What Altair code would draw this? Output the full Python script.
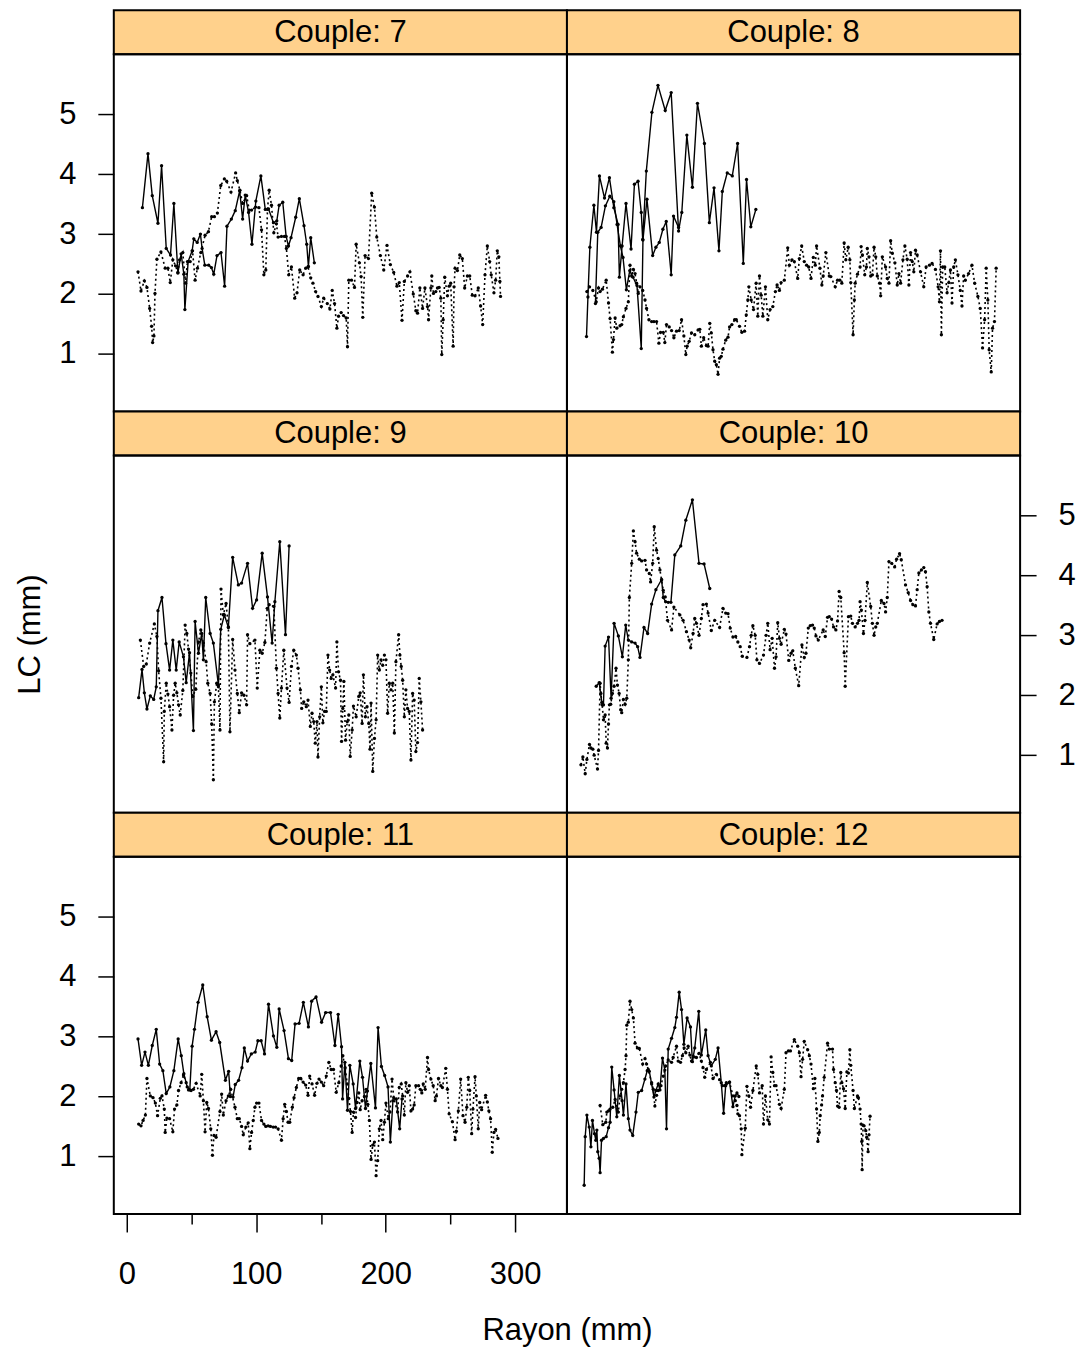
import altair as alt
import pandas as pd

FONT = "Liberation Sans"
STRIP_FILL = "#FFD18C"

y_ticks = [1, 2, 3, 4, 5]
x_ticks = [0, 50, 100, 150, 200, 250, 300]

# ---------------- data (Rayon mm, LC mm) ----------------
c7_solid = [(12.1,3.44),(16.4,4.34),(19.7,3.64),(24.1,3.18),(26.9,4.14),(30.5,2.76),(33.8,2.65),(36.4,3.51),(39.5,2.35),(42.0,2.67),(44.1,2.33),(44.9,1.74),(47.4,2.54),(50.5,2.72),(51.8,2.92),(54.4,2.86),(56.9,3.00),(58.2,2.76),(60.3,2.48),(63.3,2.48),(65.4,2.44),(67.2,2.33),(69.7,2.64),(72.8,2.69),(75.6,2.13),(77.4,3.13),(80.8,3.25),(83.8,3.39),(87.2,3.72),(89.5,3.25),(91.5,3.65),(94.1,3.36),(96.7,2.83),(99.7,3.55),(103.6,3.97),(107.0,3.41),(109.5,3.42),(113.3,3.19),(115.9,3.22),(117.7,3.48),(120.5,3.53),(123.1,2.96),(124.9,2.80),(126.9,2.94),(130.5,3.28),(133.3,3.59),(136.9,3.14),(139.0,2.83),(140.3,2.46),(142.1,2.94),(144.9,2.52)]
c7_dotted = [(8.7,2.37),(11.0,2.05),(13.6,2.22),(15.6,2.11),(17.7,1.76),(19.2,1.46),(20.0,1.19),(21.0,1.30),(21.8,2.01),(23.3,2.58),(26.4,2.70),(29.7,2.43),(31.8,2.43),(33.6,2.19),(35.6,2.57),(37.7,2.47),(39.5,2.36),(40.8,2.57),(43.3,2.69),(45.4,2.18),(46.9,2.54),(49.0,2.54),(50.8,2.72),(52.8,2.23),(54.6,2.43),(57.2,2.69),(60.5,2.98),(63.1,3.04),(65.6,3.29),(67.7,3.29),(70.0,3.35),(72.6,3.81),(75.4,3.92),(77.2,3.88),(80.5,3.70),(84.1,4.02),(85.4,3.89),(87.4,3.73),(89.5,3.51),(92.6,3.64),(94.6,3.40),(96.4,3.40),(99.5,3.45),(102.1,3.44),(104.1,3.07),(105.9,2.32),(107.4,2.40),(108.7,3.41),(110.0,3.73),(111.8,3.48),(113.6,3.02),(115.6,3.17),(116.9,2.95),(119.5,2.96),(121.8,2.96),(123.3,2.76),(125.1,2.32),(127.2,2.45),(129.7,1.93),(131.5,2.02),(133.6,2.40),(136.2,2.32),(138.2,2.43),(140.0,2.45),(142.1,2.27),(143.8,2.18),(145.9,2.04),(147.7,1.96),(150.3,1.79),(152.1,1.93),(154.9,1.84),(156.9,1.75),(158.7,2.06),(160.5,1.84),(162.3,1.43),(163.6,1.63),(165.6,1.69),(167.4,1.64),(169.5,1.60),(170.5,1.12),(171.5,2.23),(173.6,2.23),(175.9,2.11),(177.2,2.83),(179.7,2.52),(181.0,2.29),(182.3,1.61),(184.1,2.64),(186.7,2.59),(189.2,3.68),(191.3,3.45),(193.1,2.95),(195.9,2.64),(198.5,2.40),(201.0,2.81),(203.6,2.49),(206.2,2.36),(208.7,2.13),(210.5,2.19),(212.6,1.56),(214.4,2.21),(216.9,2.30),(218.7,2.37),(221.3,2.00),(223.3,1.72),(224.6,1.68),(226.4,2.10),(228.5,1.76),(230.3,2.10),(232.3,1.79),(233.1,1.57),(234.9,2.10),(235.6,2.30),(236.9,2.01),(238.7,2.04),(240.0,2.10),(241.3,2.11),(242.6,1.93),(243.3,0.99),(244.4,1.57),(245.6,2.28),(247.7,1.97),(249.0,2.13),(250.2,2.18),(252.1,1.13),(252.8,2.12),(253.6,2.43),(255.4,2.39),(257.2,2.65),(259.2,2.59),(261.0,2.10),(263.1,2.30),(264.9,2.30),(266.9,1.98),(269.0,1.97),(271.5,2.10),(273.3,1.80),(274.9,1.49),(276.7,2.32),(278.5,2.80),(280.3,2.54),(281.5,2.32),(283.6,2.02),(284.9,2.23),(286.2,2.72),(287.4,2.62),(288.2,2.21),(288.7,1.96)]

c8_solid_a = [(5.1,1.29),(6.2,1.95),(7.7,2.78),(10.8,3.48),(12.8,3.03),(15.1,3.97),(19.0,3.60),(22.8,3.94),(26.2,3.44),(29.5,3.16),(30.5,2.28),(32.6,2.80),(35.6,3.51),(39.5,2.75),(42.1,3.83),(44.9,3.88),(47.4,3.36),(48.5,2.91),(51.3,4.05),(55.6,5.03),(60.3,5.48),(65.9,5.06),(70.5,5.36),(76.2,3.05),(78.7,3.36),(82.6,4.65),(86.9,3.78),(90.8,5.18),(96.2,4.51),(100.0,3.19),(103.6,3.77),(107.4,2.72),(110.0,3.71),(113.8,4.02),(117.7,3.97),(121.8,4.51),(126.2,2.51),(128.7,3.91),(132.0,3.12),(135.9,3.41)]
c8_solid_b = [(12.0,1.84),(13.8,3.03),(16.4,3.11),(19.7,3.47),(23.1,3.63),(26.2,3.54),(28.7,3.16),(31.3,2.80),(33.3,2.61),(35.9,2.07),(38.5,2.39),(41.0,2.28),(44.1,2.14),(47.4,1.09),(48.7,2.90),(51.8,3.58),(56.2,2.64),(58.7,2.78),(61.3,2.86),(64.1,3.08),(66.7,3.21),(70.5,2.32),(72.3,3.30),(76.2,3.11)]
c8_dotted = [(5.4,2.04),(7.4,2.12),(10.0,2.06),(12.6,1.87),(14.4,2.10),(15.6,2.04),(17.4,2.08),(20.3,2.23),(22.1,1.85),(23.3,1.59),(25.1,1.03),(25.9,1.24),(27.2,1.60),(28.5,1.43),(31.0,1.47),(32.3,1.49),(33.6,1.62),(35.6,1.76),(37.4,1.87),(38.7,2.48),(40.0,2.30),(41.3,2.41),(42.6,2.34),(43.8,2.18),(45.1,2.01),(46.4,2.12),(48.5,2.06),(50.3,1.90),(51.5,1.76),(53.3,1.57),(55.4,1.54),(57.2,1.54),(59.2,1.54),(61.0,1.18),(62.3,1.36),(64.4,1.36),(65.6,1.19),(66.9,1.49),(69.0,1.45),(70.8,1.39),(72.6,1.27),(74.6,1.38),(76.7,1.39),(78.5,1.57),(80.3,1.30),(81.8,0.99),(82.8,1.13),(84.4,1.21),(86.2,1.35),(88.7,1.32),(91.3,1.40),(92.6,1.41),(93.8,1.13),(95.6,1.27),(97.7,1.14),(99.0,1.13),(100.3,1.51),(101.5,1.35),(102.8,1.07),(104.1,0.88),(105.4,0.82),(106.7,0.66),(107.9,0.93),(109.2,0.96),(110.5,1.08),(112.6,1.23),(114.4,1.28),(115.6,1.45),(117.4,1.49),(119.5,1.57),(120.8,1.57),(123.3,1.46),(125.1,1.36),(127.2,1.38),(128.5,1.65),(129.7,1.90),(130.5,2.12),(132.3,1.90),(134.1,1.74),(136.1,2.18),(137.4,1.63),(138.7,2.30),(140.0,1.98),(141.3,1.63),(143.3,2.12),(145.1,1.57),(146.9,1.74),(149.0,1.79),(151.0,2.04),(152.3,2.15),(154.1,2.06),(155.4,2.19),(157.9,2.23),(160.5,2.77),(161.8,2.48),(163.8,2.57),(165.6,2.54),(168.2,2.26),(169.5,2.59),(171.3,2.80),(173.3,2.54),(175.1,2.48),(176.7,2.45),(178.5,2.26),(180.3,2.61),(181.8,2.48),(182.8,2.80),(185.4,2.43),(186.9,2.15),(187.9,2.30),(190.0,2.69),(192.6,2.30),(193.8,2.29),(197.2,2.12),(199.0,2.23),(200.8,2.23),(202.3,2.18),(204.1,2.85),(205.4,2.57),(207.2,2.78),(208.5,2.57),(209.2,2.19),(211.0,1.32),(212.0,1.90),(212.6,2.18),(214.4,2.33),(216.4,2.45),(217.2,2.79),(218.2,2.65),(220.0,2.32),(221.3,2.45),(222.0,2.76),(223.3,2.62),(224.6,2.30),(225.9,2.32),(227.2,2.78),(228.5,2.62),(229.7,2.30),(231.5,2.18),(232.3,1.97),(233.6,2.62),(236.1,2.45),(237.4,2.26),(238.7,2.18),(240.0,2.89),(241.3,2.68),(243.3,2.52),(245.1,2.15),(246.4,2.34),(247.7,2.18),(249.5,2.57),(251.0,2.80),(252.8,2.58),(254.1,2.15),(255.4,2.69),(256.7,2.54),(257.9,2.37),(259.2,2.73),(260.5,2.65),(263.1,2.37),(265.6,2.12),(267.4,2.45),(270.0,2.48),(272.0,2.51),(274.6,2.41),(276.7,2.12),(277.7,1.87),(278.5,2.72),(279.2,1.32),(280.2,2.45),(281.8,2.45),(283.6,2.02),(284.9,2.19),(286.2,2.40),(287.4,1.85),(288.7,2.45),(290.0,2.57),(292.0,2.32),(293.8,2.06),(295.1,1.80),(296.4,2.30),(297.7,2.23),(300.2,2.34),(302.8,2.48),(304.9,2.18),(307.4,1.96),(309.2,1.76),(311.0,1.10),(312.6,1.57),(313.8,2.43),(315.1,1.90),(316.1,1.07),(317.7,0.70),(318.7,1.43),(320.2,1.54),(321.5,2.43)]

c9_solid = [(9.2,1.96),(11.8,2.43),(13.6,2.04),(15.6,1.77),(18.2,1.99),(20.8,1.93),(22.8,2.14),(24.1,3.41),(27.2,3.63),(30.3,2.86),(33.1,2.42),(35.6,2.92),(38.2,2.42),(40.5,2.89),(43.8,2.64),(45.9,2.21),(48.5,2.71),(51.5,1.41),(52.8,3.23),(55.4,2.70),(57.9,3.03),(59.2,2.59),(61.0,3.63),(64.4,3.03),(66.9,2.87),(70.8,2.17),(72.6,3.10),(75.4,3.34),(78.5,3.13),(81.8,4.30),(86.2,3.84),(88.7,3.87),(93.3,4.20),(97.2,3.45),(100.3,3.59),(104.6,4.37),(108.7,3.64),(112.3,2.87),(114.4,3.56),(118.2,4.56),(122.6,3.01),(125.4,4.49)]
c9_dotted = [(10.5,2.92),(13.1,2.48),(15.1,2.52),(17.7,2.87),(21.3,3.19),(23.3,2.98),(24.6,2.41),(26.4,1.95),(28.5,0.89),(29.0,1.73),(30.5,2.20),(31.8,2.02),(33.1,1.81),(34.9,1.42),(36.2,2.00),(37.4,2.20),(38.7,2.04),(40.0,1.84),(41.3,1.67),(43.3,2.08),(45.1,3.17),(46.4,3.03),(47.7,2.77),(49.5,2.37),(51.0,1.98),(53.3,2.10),(55.4,2.89),(57.2,3.09),(59.2,2.87),(61.3,2.56),(62.6,2.20),(64.4,2.03),(65.6,1.52),(66.9,0.59),(67.7,1.89),(69.5,2.20),(70.8,2.14),(72.0,1.42),(72.8,3.77),(74.6,3.34),(76.7,3.53),(78.5,3.14),(79.7,1.39),(81.8,2.93),(83.6,2.42),(85.4,2.03),(86.9,1.71),(88.7,2.04),(90.5,2.00),(92.6,1.84),(93.3,3.01),(95.1,2.86),(99.0,2.92),(100.8,2.12),(102.8,2.75),(104.6,2.70),(106.7,2.88),(108.5,3.45),(110.0,3.51),(113.6,3.48),(115.6,2.45),(116.9,2.03),(118.2,1.62),(119.5,2.12),(121.3,2.75),(123.8,2.12),(125.4,1.88),(127.2,2.48),(129.0,2.75),(131.0,2.67),(132.3,2.45),(134.1,2.09),(135.1,1.78),(136.7,1.89),(138.7,1.81),(140.0,1.92),(141.8,1.48),(143.1,1.70),(144.4,1.56),(145.6,1.20),(146.9,1.56),(147.7,0.97),(149.0,1.64),(150.3,2.14),(151.5,1.54),(152.8,1.73),(154.1,1.73),(155.4,2.67),(156.7,2.42),(157.9,2.28),(159.2,2.34),(161.3,2.12),(162.3,2.89),(163.6,2.39),(165.1,2.25),(165.9,1.23),(166.9,1.78),(167.7,2.23),(169.0,1.25),(170.3,1.56),(171.5,1.67),(172.6,0.98),(174.1,1.42),(175.1,1.82),(177.2,1.64),(179.2,1.98),(180.3,2.04),(181.8,1.53),(182.8,2.34),(184.3,1.64),(185.6,1.81),(186.9,1.53),(187.9,1.10),(188.7,1.87),(190.0,0.73),(191.3,1.28),(192.6,1.59),(193.8,2.67),(195.1,2.42),(196.4,2.59),(197.7,2.50),(199.0,2.67),(200.2,2.59),(201.5,1.70),(202.8,2.20),(204.1,2.09),(205.4,2.20),(206.7,1.37),(207.9,2.56),(210.0,3.01),(211.0,2.67),(212.0,2.48),(213.1,2.25),(214.4,1.64),(215.6,2.09),(216.9,1.78),(218.2,1.73),(219.5,0.92),(220.8,2.03),(222.0,1.92),(223.3,1.06),(224.6,1.21),(225.9,2.28),(227.2,1.89),(228.5,1.42)]

c10_solid = [(12.6,2.15),(14.9,2.21),(16.9,1.88),(18.2,1.84),(19.5,2.82),(22.1,2.97),(24.1,1.95),(26.4,3.20),(29.7,2.99),(32.8,2.64),(35.4,3.17),(37.4,2.92),(40.0,2.89),(42.6,2.87),(44.6,2.81),(46.4,2.63),(49.5,3.13),(52.3,3.03),(55.4,3.52),(58.7,3.76),(63.1,3.93),(64.4,3.63),(66.2,3.56),(68.2,3.55),(70.3,3.55),(73.3,4.34),(77.9,4.49),(81.8,4.92),(86.9,5.26),(92.0,4.20),(95.9,4.19),(100.3,3.78)]
c10_dotted = [(0.8,0.84),(2.3,0.97),(4.1,0.69),(5.4,0.93),(7.4,1.18),(8.5,1.12),(10.0,1.10),(11.0,1.00),(13.6,0.77),(14.4,1.08),(15.6,2.20),(16.2,2.03),(17.2,1.84),(18.2,1.59),(19.5,1.67),(20.3,1.20),(21.3,1.12),(22.1,1.52),(22.8,1.84),(23.8,1.85),(25.1,2.03),(26.4,2.15),(27.9,2.45),(29.0,2.17),(30.3,2.03),(31.5,1.76),(32.3,1.71),(33.6,1.93),(34.9,1.85),(36.2,1.95),(37.4,2.59),(38.2,3.63),(40.0,4.20),(41.3,4.74),(42.6,4.56),(43.8,4.37),(45.9,4.27),(47.7,4.24),(50.3,4.25),(51.5,4.09),(53.6,4.03),(54.6,3.89),(56.2,4.20),(57.4,4.81),(59.2,4.42),(60.5,4.28),(61.8,4.09),(63.1,3.92),(64.4,3.75),(65.9,3.64),(67.7,3.25),(70.8,3.09),(72.6,3.47),(77.2,3.34),(79.7,3.25),(82.3,3.06),(84.4,2.92),(85.6,2.79),(87.4,3.03),(88.7,3.28),(90.0,3.20),(92.0,3.00),(93.8,3.28),(95.1,3.51),(97.7,3.52),(99.0,3.37),(101.5,3.08),(104.1,3.25),(107.9,3.13),(110.5,3.45),(112.6,3.37),(114.4,3.36),(116.1,3.12),(118.2,2.97),(120.3,2.98),(122.0,2.89),(123.8,2.81),(125.4,2.65),(129.0,2.63),(131.0,2.81),(132.3,3.00),(133.6,3.16),(135.4,3.00),(136.7,2.59),(138.7,2.53),(141.8,2.67),(143.8,3.00),(145.1,3.20),(146.9,2.76),(148.5,2.95),(150.3,2.45),(151.5,2.64),(152.8,3.21),(154.1,2.95),(155.4,2.85),(157.9,3.10),(159.2,3.02),(161.3,2.58),(163.1,2.70),(164.4,2.74),(166.4,2.45),(169.0,2.16),(171.5,2.84),(173.3,2.63),(174.6,2.70),(176.4,3.12),(177.9,3.16),(179.7,3.17),(181.0,3.12),(182.3,2.99),(184.1,2.92),(187.9,3.09),(189.5,2.98),(191.3,3.30),(192.6,3.31),(194.4,3.27),(195.9,3.14),(197.7,3.09),(199.0,3.24),(200.2,3.73),(201.5,3.63),(204.1,2.71),(204.9,2.15),(207.4,3.31),(209.2,3.32),(210.5,3.20),(212.6,3.14),(214.4,3.20),(215.6,3.25),(216.4,3.56),(217.4,3.42),(219.0,3.03),(220.2,3.25),(222.0,3.88),(224.6,3.48),(225.9,3.20),(227.2,3.00),(228.5,3.14),(229.7,3.20),(232.8,3.58),(234.9,3.53),(236.1,3.39),(237.4,3.63),(238.7,4.23),(240.8,4.20),(243.1,4.14),(244.6,4.27),(246.9,4.36),(248.2,4.26),(251.5,3.84),(253.6,3.71),(255.4,3.58),(257.2,3.51),(259.2,3.49),(260.5,3.76),(261.8,4.04),(263.8,4.09),(265.6,4.13),(266.9,4.06),(268.2,3.81),(269.5,3.39),(270.8,3.20),(273.3,2.93),(275.9,3.19),(277.7,3.23),(279.7,3.25)]

c11_solid = [(8.7,2.96),(11.5,2.52),(14.1,2.74),(16.7,2.52),(19.7,2.85),(22.8,3.12),(25.4,2.54),(27.9,2.43),(30.5,2.05),(33.3,2.16),(36.4,2.43),(39.7,2.96),(42.1,2.68),(44.1,2.38),(46.7,2.16),(48.7,2.11),(50.5,2.84),(52.3,3.12),(55.1,3.57),(58.7,3.86),(62.1,3.33),(65.4,2.94),(69.0,3.08),(71.8,2.90),(76.2,2.27),(78.7,2.42),(80.0,2.00),(82.1,1.99),(83.8,2.20),(86.4,2.27),(89.0,2.48),(90.8,2.81),(93.3,2.59),(96.2,2.71),(99.2,2.74),(101.3,2.93),(103.8,2.93),(106.4,2.71),(109.5,3.54),(113.3,3.01),(115.9,2.82),(117.7,3.46),(121.5,3.10),(124.9,2.63),(127.4,2.60),(130.0,3.21),(133.1,3.22),(136.4,3.57),(140.3,3.16),(142.8,3.59),(146.2,3.66),(150.5,3.24),(153.6,3.40),(157.4,3.40),(160.8,2.85),(163.3,3.37),(165.9,2.83),(166.7,1.96),(168.5,2.57),(170.5,1.77),(172.3,2.52),(174.9,2.21),(176.7,1.80),(180.0,2.59),(182.1,2.32),(184.4,1.80),(185.9,2.09),(188.5,2.55),(192.1,1.81),(194.1,3.15),(196.7,2.50),(199.2,2.35),(201.8,2.16),(203.6,1.24),(205.6,1.93),(208.2,1.96),(210.8,1.46),(212.6,1.96)]
c11_dotted = [(9.2,1.54),(11.0,1.51),(12.6,1.60),(14.4,1.69),(15.6,2.30),(18.2,2.01),(20.3,1.98),(22.1,1.89),(23.8,1.68),(25.9,1.97),(27.2,2.01),(29.0,1.79),(29.7,1.40),(31.0,1.64),(33.1,1.63),(35.6,1.41),(36.9,1.79),(38.7,1.86),(40.0,2.10),(42.0,2.23),(43.8,2.36),(45.9,2.23),(47.7,2.11),(49.7,2.10),(51.5,2.12),(53.6,2.22),(56.7,2.01),(57.9,2.37),(59.2,1.93),(60.5,1.41),(61.8,1.90),(63.1,1.80),(64.9,1.46),(66.2,1.02),(67.4,1.35),(69.0,1.32),(72.0,1.75),(73.3,2.04),(74.6,1.69),(76.7,1.93),(78.5,2.01),(80.3,2.12),(83.6,1.82),(85.4,1.63),(86.9,1.63),(88.7,1.50),(90.0,1.36),(92.0,1.49),(93.8,1.56),(95.1,1.13),(96.4,1.40),(97.7,1.60),(99.0,1.82),(100.3,1.89),(102.1,1.89),(104.1,1.60),(105.9,1.54),(107.4,1.50),(109.2,1.51),(111.0,1.50),(113.1,1.49),(114.9,1.49),(116.9,1.46),(119.5,1.27),(120.8,1.63),(122.0,1.87),(123.3,1.75),(124.6,1.57),(125.9,1.57),(127.9,1.82),(129.2,1.98),(131.0,2.15),(132.8,2.30),(134.4,2.30),(136.2,2.24),(138.2,2.19),(140.0,2.02),(141.3,2.34),(143.1,2.21),(145.1,2.02),(146.9,2.22),(148.5,2.29),(150.3,2.24),(152.1,2.18),(154.1,2.34),(156.1,2.57),(157.9,2.45),(159.7,2.45),(161.8,2.07),(163.8,2.23),(165.6,2.51),(166.9,2.68),(168.7,2.48),(170.3,2.21),(171.5,1.97),(172.8,1.75),(174.1,1.40),(175.1,1.74),(176.7,1.65),(177.9,1.90),(179.2,2.06),(180.3,1.78),(181.8,1.93),(183.6,2.00),(184.9,2.12),(186.2,1.87),(187.4,1.60),(188.7,0.95),(190.0,1.19),(191.3,1.24),(192.6,0.68),(193.8,0.93),(195.1,1.46),(196.4,1.60),(197.7,1.28),(199.0,1.57),(200.2,1.89),(202.0,1.63),(203.3,1.74),(204.9,2.29),(206.2,1.98),(209.2,1.74),(210.5,2.15),(212.0,2.21),(213.1,2.01),(214.4,1.69),(215.6,2.23),(216.9,2.07),(218.2,2.18),(219.5,1.76),(220.8,1.79),(222.0,1.86),(223.3,2.18),(225.4,2.18),(226.7,2.12),(227.9,2.06),(229.0,2.21),(230.5,2.12),(232.3,2.65),(233.1,2.45),(234.9,2.29),(236.7,2.18),(238.2,1.93),(239.2,2.01),(240.8,2.30),(242.6,2.18),(243.8,2.15),(246.4,2.47),(247.7,2.12),(249.0,1.71),(251.5,1.58),(253.6,1.28),(254.6,1.42),(256.1,1.76),(257.9,2.29),(259.7,1.68),(261.3,1.57),(262.6,1.82),(263.8,2.32),(264.9,2.10),(266.4,1.38),(267.4,1.79),(269.0,2.33),(270.0,2.01),(271.5,1.46),(272.6,1.90),(274.1,1.78),(277.2,2.02),(278.5,1.91),(279.7,1.76),(281.0,1.63),(282.3,1.07),(283.6,1.40),(284.9,1.45),(286.7,1.30)]

c12_solid = [(3.3,0.52),(4.1,1.33),(5.4,1.69),(7.2,1.49),(8.5,1.16),(9.7,1.60),(11.3,1.38),(12.3,1.27),(13.1,1.44),(13.8,1.08),(14.9,0.97),(15.6,0.73),(16.7,1.27),(18.2,1.30),(20.3,1.33),(22.1,1.48),(23.3,1.57),(24.6,2.49),(26.4,2.11),(28.5,1.66),(30.5,2.35),(32.6,1.93),(33.6,1.69),(35.6,2.21),(37.4,1.63),(38.7,1.44),(40.8,1.35),(43.3,1.74),(45.1,2.07),(47.7,2.10),(50.2,2.29),(52.0,2.43),(53.6,2.42),(55.4,2.21),(57.2,1.99),(58.7,2.10),(60.5,2.21),(61.8,2.11),(63.8,2.64),(65.6,2.44),(66.9,1.46),(68.2,2.79),(70.8,2.97),(73.3,3.15),(74.6,3.32),(76.7,3.74),(78.5,3.45),(80.3,2.87),(82.8,3.31),(85.4,3.16),(86.9,2.58),(88.7,2.81),(91.8,3.42),(93.8,2.69),(97.2,3.11),(99.0,2.68),(101.5,2.51),(104.6,2.62),(106.7,2.81),(109.2,2.23),(111.0,1.72),(112.6,2.18),(115.6,2.24),(118.2,1.83),(120.0,2.01),(121.3,2.06),(122.8,2.00)]
c12_dotted = [(15.6,1.85),(17.7,1.53),(20.0,1.57),(20.8,1.74),(22.1,1.76),(23.3,1.79),(25.4,1.82),(27.2,1.95),(29.7,1.74),(31.0,2.01),(32.3,2.12),(33.6,2.23),(34.9,2.45),(35.6,2.68),(36.2,3.19),(37.4,3.24),(38.7,3.59),(40.0,3.45),(41.3,3.31),(42.6,2.89),(44.4,2.81),(45.9,2.80),(48.5,2.54),(50.3,2.63),(51.5,2.54),(52.8,2.45),(55.4,2.23),(56.7,2.12),(57.9,1.84),(59.2,2.02),(60.5,2.10),(62.6,2.18),(64.4,2.34),(66.2,2.51),(68.2,2.61),(70.8,2.57),(72.0,2.65),(74.6,2.84),(75.9,2.59),(77.7,2.57),(79.2,2.68),(80.5,2.81),(81.8,2.73),(83.6,2.84),(84.9,2.69),(86.2,2.59),(88.2,2.66),(90.0,2.65),(92.0,2.72),(93.8,2.59),(95.1,2.48),(96.4,2.32),(97.7,2.45),(100.8,2.57),(102.8,2.30),(105.4,2.37),(107.9,2.28),(110.0,2.18),(111.8,2.18),(113.1,2.23),(115.6,2.24),(118.2,2.01),(120.0,1.93),(121.3,1.85),(122.0,1.71),(123.3,1.68),(124.6,1.46),(125.1,1.03),(127.7,1.47),(129.0,2.17),(130.5,2.01),(131.8,1.82),(133.6,2.10),(136.2,2.51),(137.4,2.37),(138.7,2.06),(140.8,2.18),(141.8,1.54),(143.3,2.01),(145.1,1.61),(146.4,1.54),(147.7,2.66),(149.0,2.40),(150.3,2.18),(151.5,2.18),(154.1,1.87),(155.4,1.80),(157.9,2.12),(159.2,2.73),(161.0,2.76),(162.6,2.76),(165.6,2.95),(168.2,2.84),(169.5,2.73),(170.8,2.33),(172.0,2.62),(173.3,2.92),(175.9,2.78),(177.2,2.68),(178.5,2.54),(180.3,2.13),(181.5,2.30),(182.8,1.79),(183.8,1.25),(184.9,1.40),(185.6,1.68),(186.7,1.86),(187.4,2.01),(188.7,2.32),(191.3,2.89),(192.6,2.79),(195.1,2.79),(195.9,2.45),(197.2,2.23),(198.2,2.10),(199.0,1.84),(200.2,1.82),(201.5,2.40),(202.3,2.23),(203.6,2.13),(204.9,1.80),(206.2,2.41),(207.4,2.39),(208.5,2.78),(209.2,2.52),(211.0,2.10),(212.0,1.80),(214.4,2.01),(215.1,1.98),(216.4,1.79),(217.2,1.54),(217.7,1.25),(218.0,0.78),(218.7,1.52),(219.5,1.51),(220.8,1.43),(221.5,1.32),(222.6,1.08),(223.3,1.36),(224.1,1.67)]

solid_runs = {7: [c7_solid], 8: [c8_solid_a, c8_solid_b], 9: [c9_solid],
              10: [c10_solid], 11: [c11_solid], 12: [c12_solid]}
dotted_runs = {7: c7_dotted, 8: c8_dotted, 9: c9_dotted,
               10: c10_dotted, 11: c11_dotted, 12: c12_dotted}

# ---------------- layout ----------------
W = 454
PH = 358
SH = 44
XS = alt.Scale(domain=[-10, 340], nice=False, zero=False)
YS = alt.Scale(domain=[0.04, 6.0], nice=False, zero=False)
FRAME = alt.ViewBackground(stroke="black", strokeWidth=2)


def solid_df(c):
    rows = []
    for r, run in enumerate(solid_runs[c]):
        for i, (x, y) in enumerate(run):
            rows.append({"x": x, "y": y, "run": f"s{r}", "ord": i})
    return pd.DataFrame(rows)


def dotted_df(c):
    return pd.DataFrame([{"x": x, "y": y, "ord": i} for i, (x, y) in enumerate(dotted_runs[c])])


def y_axis(orient):
    return alt.Axis(orient=orient, values=y_ticks, title=None, grid=False, domain=False,
                    tickSize=16, tickWidth=1.5, tickColor="black",
                    labelFontSize=31, labelFont=FONT, labelColor="black", labelPadding=22)


x_axis_bottom = alt.Axis(
    orient="bottom", values=x_ticks, grid=False, domain=False,
    tickColor="black", tickWidth=1.5,
    tickSize={"condition": {"test": "datum.value % 100 === 0", "value": 18}, "value": 10},
    labelExpr="datum.value % 100 === 0 ? datum.label : ''",
    labelFontSize=31, labelFont=FONT, labelColor="black", labelPadding=28,
    title="Rayon (mm)", titleFontSize=31, titleFont=FONT, titleFontWeight="normal",
    titleColor="black", titleX=W, titleY=126, titleBaseline="alphabetic", titleAlign="center")

y_title_axis = alt.Axis(
    orient="left", labels=False, ticks=False, domain=False, grid=False,
    title="LC (mm)", titleFontSize=31, titleFont=FONT, titleFontWeight="normal",
    titleColor="black", titleX=-74, titleY=PH / 2, titleAngle=270,
    titleBaseline="alphabetic", titleAlign="center")


def panel(c, xaxis=None, yaxis=None):
    xenc = alt.X("x:Q", scale=XS, axis=xaxis)
    yenc = alt.Y("y:Q", scale=YS, axis=yaxis)
    sdf = solid_df(c)
    ddf = dotted_df(c)
    l1 = alt.Chart(ddf).mark_line(color="black", strokeWidth=1.6, strokeDash=[2, 3]).encode(
        x=xenc, y=yenc, order="ord:Q")
    l2 = alt.Chart(ddf).mark_circle(color="black", size=11, opacity=1).encode(x=xenc, y=yenc)
    l3 = alt.Chart(sdf).mark_line(color="black", strokeWidth=1.4).encode(
        x=xenc, y=yenc, detail="run:N", order="ord:Q")
    l4 = alt.Chart(sdf).mark_circle(color="black", size=11, opacity=1).encode(x=xenc, y=yenc)
    return alt.layer(l1, l2, l3, l4).properties(width=W, height=PH, view=FRAME)


def strip(c):
    return alt.Chart(pd.DataFrame({"label": [f"Couple: {c}"]})).mark_text(
        fontSize=31, font=FONT, color="black", align="center", baseline="middle"
    ).encode(text="label:N", x=alt.value(W / 2), y=alt.value(SH / 2 + 1)).properties(
        width=W, height=SH,
        view=alt.ViewBackground(fill=STRIP_FILL, stroke="black", strokeWidth=2))


chart = alt.concat(
    strip(7), strip(8),
    panel(7, yaxis=y_axis("left")), panel(8),
    strip(9), strip(10),
    panel(9, yaxis=y_title_axis), panel(10, yaxis=y_axis("right")),
    strip(11), strip(12),
    panel(11, xaxis=x_axis_bottom, yaxis=y_axis("left")), panel(12),
    columns=2, spacing=0, bounds="flush", align="each",
).properties(
    padding={"left": 6, "top": 0, "right": 0, "bottom": 2},
    background="white",
).configure_view(stroke="black", strokeWidth=2).configure(font=FONT)

chart.save("out.html", embed_options={"renderer": "svg", "actions": False})
